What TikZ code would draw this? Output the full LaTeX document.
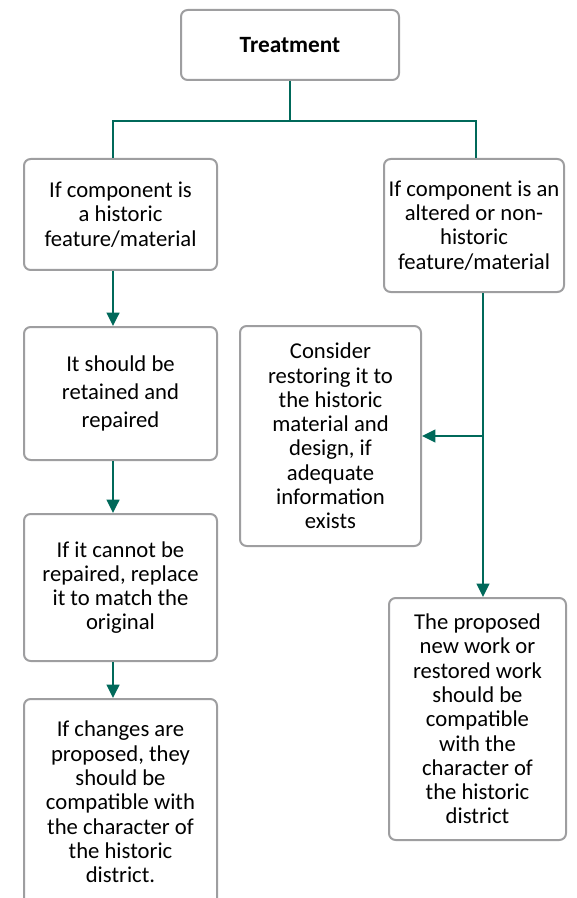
\documentclass[tikz,border=0pt]{standalone}
\usepackage{fontspec}
\setmainfont{Carlito}
\usetikzlibrary{arrows.meta}
\definecolor{flowgreen}{RGB}{0,105,90}
\definecolor{boxgray}{RGB}{158,158,160}
\begin{document}
\begin{tikzpicture}
  [
    x=0.75pt,y=-0.75pt,
    box/.style={
      draw=boxgray,line width=1.5pt,rounded corners=5pt,fill=white,
      align=center,inner sep=0pt,
      font=\fontsize{17}{18.2}\selectfont
    },
    link/.style={flowgreen,line width=1.6pt},
    flow/.style={link,-{Triangle[length=10pt,width=9.5pt]}},
  ]
    \useasboundingbox (0,0) rectangle (576,898);
    % top box
    \node [box,minimum width=163.5pt,minimum height=52.5pt,font=\fontsize{17.5}{18.2}\selectfont\bfseries] (treat) at (290,45) {Treatment};
    % left column
    \node [box,minimum width=144.75pt,minimum height=83.25pt] (hist) at (120.5,214.5)
      {If component is\\a historic\\feature/material};
    \node [box,minimum width=144.75pt,minimum height=99.75pt,font=\fontsize{17}{21}\selectfont] (retain) at (120.5,393.5)
      {It should be\\retained and\\repaired};
    \node [box,minimum width=144.75pt,minimum height=110.25pt] (replace) at (120.5,587.5)
      {If it cannot be\\repaired, replace\\it to match the\\original};
    \node [box,minimum width=144.75pt,minimum height=154.5pt] (changes) at (120.5,802)
      {If changes are\\proposed, they\\should be\\compatible with\\the character of\\the historic\\district.};
    % right column
    \node [box,minimum width=135pt,minimum height=99.75pt] (alt) at (474,225.5)
      {If component is an\\altered or non-\\historic\\feature/material};
    \node [box,minimum width=135.75pt,minimum height=165pt] (restore) at (330.5,436)
      {Consider\\restoring it to\\the historic\\material and\\design, if\\adequate\\information\\exists};
    \node [box,minimum width=132.75pt,minimum height=181.5pt] (newwork) at (477.5,719)
      {The proposed\\new work or\\restored work\\should be\\compatible\\with the\\character of\\the historic\\district};
    % connectors
    \draw [link] (treat.south) -- ++(0,40) coordinate (split);
    \draw [link] (split) -| ([xshift=-5.6pt]hist.north);
    \draw [link] (split) -| ([xshift=1.5pt]alt.north);
    \draw [flow] ([xshift=-5.6pt]hist.south) -- ([xshift=-5.6pt]retain.north);
    \draw [flow] ([xshift=-5.6pt]retain.south) -- ([xshift=-5.6pt]replace.north);
    \draw [flow] ([xshift=-5.6pt]replace.south) -- ([xshift=-5.6pt]changes.north);
    \coordinate (fork) at ([xshift=6.75pt]alt.south |- restore.east);
    \draw [flow] ([xshift=6.75pt]alt.south) -- ([xshift=6.75pt]alt.south |- newwork.north);
    \draw [flow] (fork) -- (restore.east);
  \end{tikzpicture}
\end{document}
